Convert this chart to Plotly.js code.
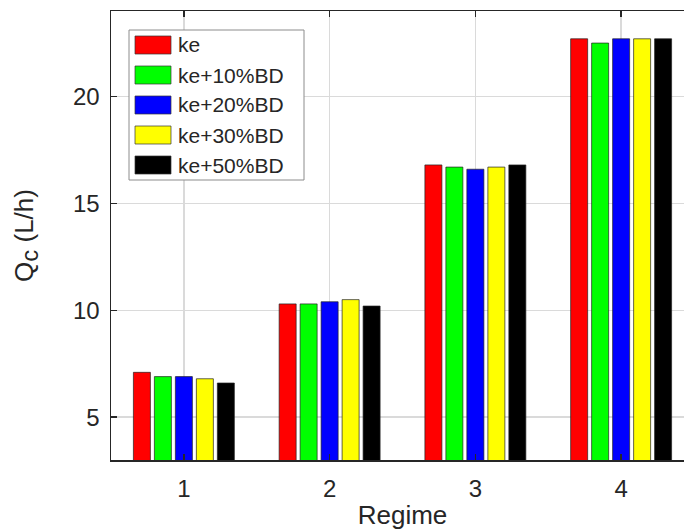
<!DOCTYPE html>
<html>
<head>
<meta charset="utf-8">
<script src="https://cdn.plot.ly/plotly-3.0.1.min.js"></script>
<style>
html,body{margin:0;padding:0;overflow:hidden;background:#fff;}
#chart{width:700px;height:531px;}
</style>
</head>
<body>
<div id="chart"></div>
<script>
// Data
const regimes = [1, 2, 3, 4];
const seriesNames = ['ke', 'ke+10%BD', 'ke+20%BD', 'ke+30%BD', 'ke+50%BD'];
const seriesColors = ['#ff0000', '#00ff00', '#0000ff', '#ffff00', '#000000'];
const ke      = [7.1, 10.3, 16.8, 22.7];
const ke10BD  = [6.9, 10.3, 16.7, 22.5];
const ke20BD  = [6.9, 10.4, 16.6, 22.7];
const ke30BD  = [6.8, 10.5, 16.7, 22.7];
const ke50BD  = [6.6, 10.2, 16.8, 22.7];
const seriesValues = [ke, ke10BD, ke20BD, ke30BD, ke50BD];
const xTickVals = [1, 2, 3, 4];
const xTickText = ['1', '2', '3', '4'];
const yTickVals = [5, 10, 15, 20];
const yTickText = ['5', '10', '15', '20'];

const FONT = '"Liberation Sans", Arial, Helvetica, sans-serif';
const TXT = '#262626';

const traces = seriesNames.map((name, i) => ({
  type: 'bar',
  name: name,
  x: regimes,
  y: seriesValues[i],
  marker: {color: seriesColors[i], line: {color: '#222222', width: 0.7}},
  showlegend: false,
  hoverinfo: 'x+y+name'
}));

// plot area in pixels
const W = 700, H = 531;
const L = 111, R = 694, T = 11, B = 460;
const px = x => (x - L) / (R - L);
const py = y => (B - y) / (B - T);

// custom legend (MATLAB style)
const shapes = [{
  type: 'rect', xref: 'paper', yref: 'paper',
  x0: px(129), x1: px(304), y0: py(180), y1: py(30),
  fillcolor: '#ffffff', line: {color: '#8c8c8c', width: 1}, layer: 'above'
}];
const annotations = [];
seriesNames.forEach((name, i) => {
  const cy = 45 + i * 30;
  shapes.push({
    type: 'rect', xref: 'paper', yref: 'paper',
    x0: px(135), x1: px(171), y0: py(cy + 9), y1: py(cy - 9),
    fillcolor: seriesColors[i], line: {color: '#333333', width: 0.7}, layer: 'above'
  });
  annotations.push({
    xref: 'paper', yref: 'paper', x: px(176), y: py(cy),
    xanchor: 'left', yanchor: 'middle', showarrow: false,
    text: name, font: {family: FONT, size: 21, color: TXT}
  });
});

const layout = {
  width: W, height: H,
  margin: {l: L, r: W - R, t: T, b: H - B, pad: 0},
  paper_bgcolor: '#ffffff', plot_bgcolor: '#ffffff',
  font: {family: FONT, size: 24, color: TXT},
  barmode: 'group', bargap: 0.28, bargroupgap: 0.19,
  xaxis: {
    range: [0.5, 4.5], tickvals: xTickVals, ticktext: xTickText,
    showgrid: true, gridcolor: '#dadada', gridwidth: 1.6,
    showline: true, linecolor: '#262626', linewidth: 1.5, mirror: 'ticks',
    ticks: 'inside', ticklen: 6, tickwidth: 1.5, tickcolor: '#262626',
    ticklabelstandoff: 7,
    tickfont: {family: FONT, size: 24, color: TXT},
    zeroline: false,
    title: {text: 'Regime', font: {family: FONT, size: 26, color: TXT}, standoff: 4}
  },
  yaxis: {
    range: [3, 24], tickvals: yTickVals, ticktext: yTickText,
    showgrid: true, gridcolor: '#dadada', gridwidth: 1.6,
    showline: true, linecolor: '#262626', linewidth: 1.5, mirror: 'ticks',
    ticks: 'inside', ticklen: 6, tickwidth: 1.5, tickcolor: '#262626',
    ticklabelstandoff: 5,
    tickfont: {family: FONT, size: 24, color: TXT},
    zeroline: false,
    title: {text: 'Q<sub><span style="font-size:24px">c</span></sub> (L/h)', font: {family: FONT, size: 26, color: TXT}, standoff: 32}
  },
  shapes: shapes,
  annotations: annotations
};

Plotly.newPlot('chart', traces, layout, {displayModeBar: false, staticPlot: true});
</script>
</body>
</html>
